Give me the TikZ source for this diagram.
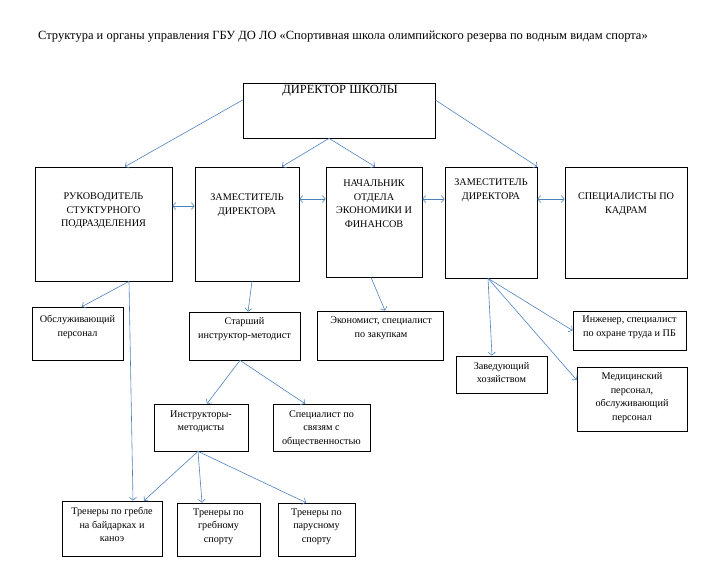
\documentclass[tikz,border=0pt]{standalone}
\usepackage{fontspec}
\setmainfont{Liberation Serif}
\usetikzlibrary{arrows.meta}
\definecolor{linkblue}{RGB}{79,129,189}

\begin{document}
\begin{tikzpicture}[x=1pt, y=-1pt, font=\fontsize{10.2}{13.5}\selectfont]

\tikzstyle{block} = [rectangle, draw, line width=0.7pt, inner sep=0pt]
\tikzstyle{boxtext} = [align=center, inner sep=0pt]
\tikzstyle{bigtext} = [inner sep=0pt, font=\fontsize{12.5}{15}\selectfont]
\tikzstyle{line} = [draw, linkblue, line width=0.6pt,
-{Straight Barb[length=3pt,width=7pt]}]
\tikzstyle{dline} = [draw, linkblue, line width=0.6pt,
{Straight Barb[length=3pt,width=7pt]}-{Straight Barb[length=3pt,width=7pt]}]

\useasboundingbox (0,0) rectangle (720,587);

\node [bigtext, anchor=west] (title) at (38,36.5) {Структура и органы управления ГБУ ДО ЛО «Спортивная школа олимпийского резерва по водным видам спорта»};

% top level
\node [block, minimum width=192pt, minimum height=55pt] (dir) at (339,110.5) {};
\node [bigtext] (dir-t) at (340,91) {ДИРЕКТОР ШКОЛЫ};

% second row
\node [block, minimum width=137pt, minimum height=114pt] (rukov) at (103.5,224) {};
\node [boxtext] (rukov-t) at (103.5,211) {РУКОВОДИТЕЛЬ\\СТУКТУРНОГО\\ПОДРАЗДЕЛЕНИЯ};

\node [block, minimum width=104pt, minimum height=114pt] (zam1) at (247,224) {};
\node [boxtext] (zam1-t) at (247,205) {ЗАМЕСТИТЕЛЬ\\ДИРЕКТОРА};

\node [block, minimum width=96pt, minimum height=110pt] (nach) at (374,222) {};
\node [boxtext] (nach-t) at (374,203.5) {НАЧАЛЬНИК\\ОТДЕЛА\\ЭКОНОМИКИ И\\ФИНАНСОВ};

\node [block, minimum width=92pt, minimum height=111pt] (zam2) at (491,222.5) {};
\node [boxtext] (zam2-t) at (491,190) {ЗАМЕСТИТЕЛЬ\\ДИРЕКТОРА};

\node [block, minimum width=122pt, minimum height=111pt] (kadry) at (626,222.5) {};
\node [boxtext] (kadry-t) at (626,204) {СПЕЦИАЛИСТЫ ПО\\КАДРАМ};

% third row
\node [block, minimum width=91pt, minimum height=53pt] (obsl) at (77.5,333.5) {};
\node [boxtext] (obsl-t) at (77.5,327) {Обслуживающий\\персонал};

\node [block, minimum width=111pt, minimum height=48pt] (starsh) at (244.5,336) {};
\node [boxtext] (starsh-t) at (244.5,329) {Старший\\инструктор-методист};

\node [block, minimum width=126pt, minimum height=49pt] (ekon) at (380,335.5) {};
\node [boxtext] (ekon-t) at (381,328) {Экономист, специалист\\по закупкам};

\node [block, minimum width=91pt, minimum height=37pt] (zav) at (501.5,374.5) {};
\node [boxtext] (zav-t) at (501.5,372.5) {Заведующий\\хозяйством};

\node [block, minimum width=113pt, minimum height=39pt] (inzh) at (629.5,330.5) {};
\node [boxtext] (inzh-t) at (629.5,327.5) {Инженер, специалист\\по охране труда и ПБ};

\node [block, minimum width=110pt, minimum height=64pt] (med) at (632,399) {};
\node [boxtext] (med-t) at (632,397.5) {Медицинский\\персонал,\\обслуживающий\\персонал};

% fourth row
\node [block, minimum width=94pt, minimum height=47pt] (instr) at (201,427.5) {};
\node [boxtext] (instr-t) at (201,421.5) {Инструкторы-\\методисты};

\node [block, minimum width=97pt, minimum height=47pt] (svyaz) at (321.5,427.5) {};
\node [boxtext] (svyaz-t) at (321.5,428.5) {Специалист по\\связям с\\общественностью};

% trainers
\node [block, minimum width=100pt, minimum height=55pt] (trgreb) at (112,528.5) {};
\node [boxtext] (trgreb-t) at (112,524.5) {Тренеры по гребле\\на байдарках и\\каноэ};

\node [block, minimum width=83pt, minimum height=53pt] (trgrebn) at (218.5,529.5) {};
\node [boxtext] (trgrebn-t) at (218.5,526.5) {Тренеры по\\гребному\\спорту};

\node [block, minimum width=77pt, minimum height=53pt] (trpar) at (316.5,529.5) {};
\node [boxtext] (trpar-t) at (316.5,526.5) {Тренеры по\\парусному\\спорту};

% director links
\path [line] ([yshift=10.5pt]dir.west) -- ([xshift=21.5pt]rukov.north);
\path [line] ([xshift=-10pt]dir.south) -- ([xshift=35pt]zam1.north);
\path [line] ([xshift=-10pt]dir.south) -- ([xshift=1pt]nach.north);
\path [line] ([yshift=10.5pt]dir.east) -- (zam2.north east);

\path [dline] ([yshift=18pt]rukov.east) -- ([yshift=18pt]zam1.west);
\path [dline] ([yshift=25pt]zam1.east) -- ([yshift=23pt]nach.west);
\path [dline] ([yshift=23pt]nach.east) -- ([yshift=23.5pt]zam2.west);
\path [dline] ([yshift=23.5pt]zam2.east) -- ([yshift=23.5pt]kadry.west);

% lower links
\path [line] ([xshift=25.5pt]rukov.south) -- ([xshift=4.5pt]obsl.north);
\path [line] ([xshift=25.5pt]rukov.south) -- ([xshift=21pt]trgreb.north);
\path [line] ([xshift=5pt]zam1.south) -- ([xshift=3.5pt]starsh.north);
\path [line] ([xshift=-4.5pt]starsh.south) -- ([xshift=6pt]instr.north);
\path [line] ([xshift=-4.5pt]starsh.south) -- ([xshift=-16.5pt]svyaz.north);
\path [line] ([xshift=-3pt]nach.south) -- ([xshift=5pt]ekon.north);
\path [line] ([xshift=-3pt]zam2.south) -- ([xshift=-9.5pt]zav.north);
\path [line] ([xshift=-3pt]zam2.south) -- (inzh.west);
\path [line] ([xshift=-3pt]zam2.south) -- ([yshift=19pt]med.west);
\path [line] ([xshift=-3pt]instr.south) -- ([xshift=32pt]trgreb.north);
\path [line] ([xshift=-3pt]instr.south) -- ([xshift=-16.5pt]trgrebn.north);
\path [line] ([xshift=-3pt]instr.south) -- ([xshift=-10.5pt]trpar.north);
\end{tikzpicture}
\end{document}
